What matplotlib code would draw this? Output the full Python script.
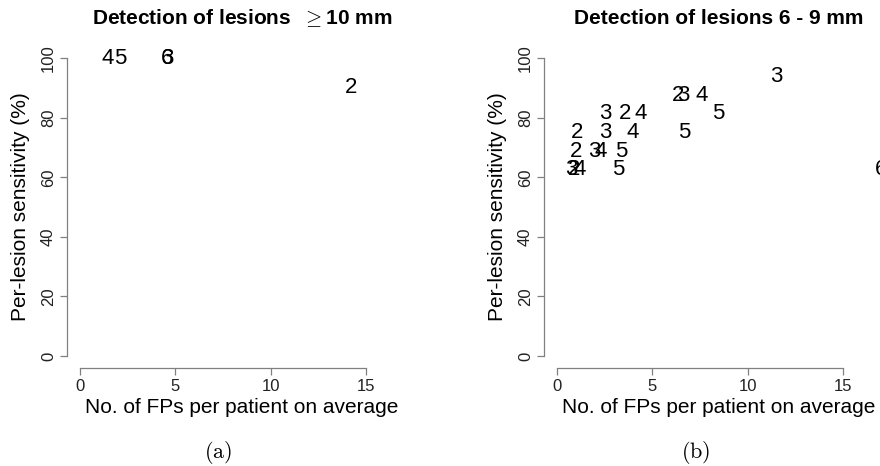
import matplotlib
matplotlib.use("Agg")
import matplotlib.pyplot as plt

plt.rcParams['font.family'] = ['Liberation Sans', 'DejaVu Sans']
plt.rcParams['mathtext.fontset'] = 'cm'

# panel (a): lesions >= 10 mm
labels_a = ["4", "5", "6", "3", "2"]
fps_a = [1.47, 2.13, 4.58, 4.58, 14.2]
sens_a = [100, 100, 100, 100, 90]

# panel (b): lesions 6 - 9 mm
labels_b = ["3", "2", "3", "4", "5", "3", "2", "4", "2", "3", "4", "5",
            "2", "3", "4", "5", "3", "2", "4", "5", "6"]
fps_b = [11.5, 6.33, 6.6, 7.59, 8.48, 2.52, 3.57, 4.41, 1.05, 2.52, 3.97, 6.65,
         1.0, 1.96, 2.27, 3.39, 0.73, 0.91, 1.21, 3.22, 17.0]
sens_b = [93.75, 87.5, 87.5, 87.5, 81.25, 81.25, 81.25, 81.25, 75, 75, 75, 75,
          68.75, 68.75, 68.75, 68.75, 62.5, 62.5, 62.5, 62.5, 62.5]

titles = ["Detection of lesions  $\\geq$10 mm", "Detection of lesions 6 - 9 mm"]
captions = ["$\\mathrm{(a)}$", "$\\mathrm{(b)}$"]
xticks = [0, 5, 10, 15]
yticks = [0, 20, 40, 60, 80, 100]

W, H = 880, 466
fig = plt.figure(figsize=(W / 100, H / 100), dpi=100)

panels = [(labels_a, fps_a, sens_a), (labels_b, fps_b, sens_b)]
lefts = [67, 544]
cap_x = [218, 696]
axw = 19.07 * 18.36
axh = 2.98 * 108

for i, (labs, xs, ys) in enumerate(panels):
    ax = fig.add_axes([lefts[i] / W, (H - 368) / H, axw / W, axh / H])
    ax.set_xlim(-0.68, 17.68)
    ax.set_ylim(-4, 104)
    for s in ["top", "right"]:
        ax.spines[s].set_visible(False)
    for s in ["left", "bottom"]:
        ax.spines[s].set_color("#808080")
        ax.spines[s].set_linewidth(0.9)
    ax.spines["left"].set_bounds(0, 100)
    ax.spines["bottom"].set_bounds(0, 15)
    ax.set_xticks(xticks)
    ax.set_yticks(yticks)
    ax.set_yticklabels([str(t) for t in yticks], rotation=90, va="center")
    ax.tick_params(length=5, width=0.9, color="#808080", labelsize=12,
                   labelcolor="#222222", pad=3)
    for lab, x, y in zip(labs, xs, ys):
        ax.text(x, y, lab, ha="center", va="center", fontsize=16, clip_on=False)
    ax.set_xlabel("No. of FPs per patient on average", fontsize=15, labelpad=3)
    ax.set_ylabel("Per-lesion sensitivity (%)", fontsize=15, labelpad=8)
    ax.set_title(titles[i], fontsize=15, fontweight="bold", pad=16)
    fig.text(cap_x[i] / W, 1 - 453 / H, captions[i], ha="center", va="center",
             fontsize=16)

fig.savefig("out.png", dpi=100)
